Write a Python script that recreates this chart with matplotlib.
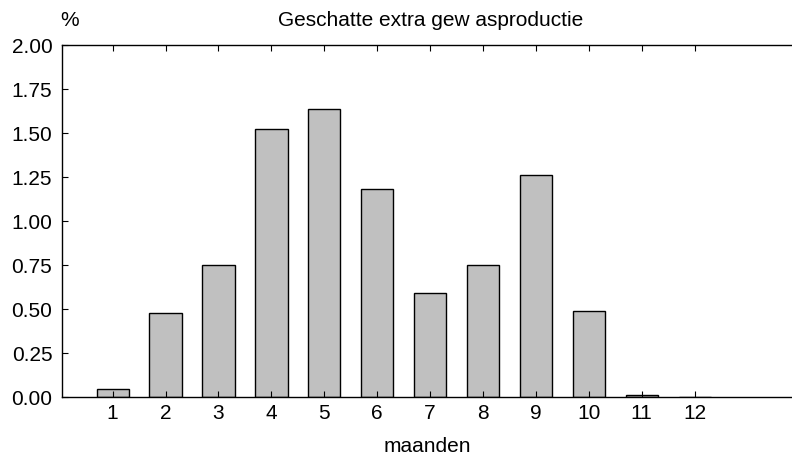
import matplotlib
matplotlib.use('Agg')
import matplotlib.pyplot as plt

plt.rcParams['font.family'] = ['Liberation Sans', 'DejaVu Sans']

months = [1, 2, 3, 4, 5, 6, 7, 8, 9, 10, 11, 12]
extra = [0.045, 0.478, 0.749, 1.521, 1.635, 1.180, 0.590, 0.749, 1.260, 0.488, 0.011, 0.002]
yticks = [0.0, 0.25, 0.5, 0.75, 1.0, 1.25, 1.5, 1.75, 2.0]

fig = plt.figure(figsize=(7.92, 4.57), dpi=100)
ax = fig.add_axes([62/792, 1 - 397.3/457, 1 - 62/792, (397.3 - 45)/457])

ax.bar(months, extra, width=0.61, color='#c0c0c0', edgecolor='black', linewidth=1.0)

ax.set_xlim(0.042, 13.84)
ax.set_ylim(0, 2.0)
ax.set_xticks(months)
ax.set_yticks(yticks)
ax.set_yticklabels(['%.2f' % v for v in yticks])

ax.spines['right'].set_visible(False)
for s in ['left', 'bottom', 'top']:
    ax.spines[s].set_linewidth(1.0)

ax.tick_params(axis='x', direction='in', top=True, bottom=True, length=4.5,
               width=0.8, labelsize=15, pad=5)
ax.tick_params(axis='y', direction='in', left=True, right=False, length=4.5,
               width=0.8, labelsize=15, pad=7)

ax.set_xlabel('maanden', fontsize=15)
ax.xaxis.set_label_coords(0.5, -(447 - 397.3) / (397.3 - 45))
ax.xaxis.label.set_va('center')
fig.text(70/792, 1 - 20/457, '%', fontsize=15, ha='center', va='center')
fig.text(431/792, 1 - 20/457, 'Geschatte extra gew asproductie', fontsize=15,
         ha='center', va='center')

plt.savefig('out.png', dpi=100)
